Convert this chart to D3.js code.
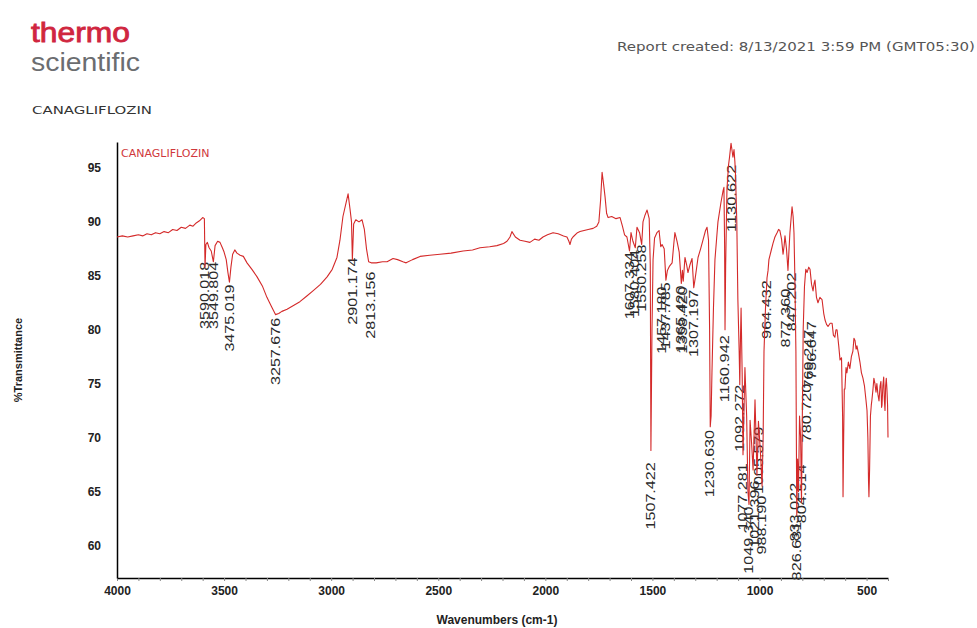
<!DOCTYPE html>
<html>
<head>
<meta charset="utf-8">
<script src="https://cdn.jsdelivr.net/npm/d3@7"></script>
<style>
body{margin:0;background:#fff;}
svg{display:block;}
</style>
</head>
<body>
<div id="chart"></div>
<script>
// spectrum: [wavenumber cm-1, %T]
var spectrum = [
 [4000,88.6],[3975,88.7],[3950,88.6],[3925,88.7],[3900,88.8],[3880,88.7],[3860,88.9],[3840,88.8],
 [3820,89.0],[3800,88.9],[3780,89.1],[3760,89.0],[3740,89.3],[3720,89.2],[3700,89.5],[3680,89.4],
 [3660,89.7],[3645,89.6],[3630,89.9],[3615,90.1],[3600,90.4],[3592,90.3],[3589,85.8],[3585,87.9],
 [3578,88.1],[3570,87.6],[3560,87.3],[3550,86.3],[3542,87.8],[3530,88.2],[3519,88.1],[3508,87.6],
 [3500,87.2],[3490,86.5],[3482,85.3],[3475,84.4],[3468,85.8],[3460,87.0],[3450,87.4],[3440,87.1],
 [3425,86.9],[3410,86.8],[3393,86.2],[3370,85.6],[3346,84.9],[3320,84.0],[3300,83.0],[3280,82.2],
 [3260,81.4],[3245,81.5],[3230,81.7],[3206,81.9],[3180,82.2],[3146,82.6],[3115,83.1],[3085,83.6],
 [3050,84.2],[3019,84.9],[2995,85.6],[2973,86.7],[2959,88.3],[2945,90.5],[2930,91.8],[2921,92.6],
 [2912,91.2],[2905,90.0],[2901,86.5],[2895,89.8],[2885,90.2],[2870,90.0],[2856,90.2],[2845,89.3],
 [2835,87.5],[2825,86.3],[2813,86.2],[2790,86.2],[2760,86.3],[2739,86.3],[2711,86.6],[2690,86.5],
 [2665,86.3],[2650,86.2],[2620,86.5],[2585,86.8],[2540,86.9],[2492,87.0],[2440,87.1],[2384,87.3],
 [2340,87.4],[2305,87.6],[2260,87.7],[2226,87.8],[2195,88.0],[2179,88.2],[2165,88.6],[2156,89.1],
 [2140,88.6],[2118,88.3],[2095,88.2],[2072,88.1],[2050,88.4],[2030,88.3],[2011,88.6],[1990,88.8],
 [1964,89.0],[1940,88.9],[1915,88.7],[1899,88.6],[1890,88.2],[1885,87.9],[1878,88.4],[1871,88.6],
 [1850,89.0],[1838,89.1],[1800,89.3],[1777,89.4],[1760,89.6],[1750,90.0],[1742,92.0],[1735,94.6],
 [1728,93.5],[1721,92.3],[1714,90.8],[1707,90.4],[1690,90.5],[1670,90.3],[1651,90.4],[1640,89.6],
 [1630,88.8],[1619,88.6],[1607,87.3],[1600,89.0],[1591,88.2],[1580,87.6],[1572,89.5],[1560,89.0],
 [1550,87.9],[1544,90.0],[1535,90.6],[1525,91.1],[1515,90.3],[1510,86.0],[1507,68.8],[1502,80.0],
 [1497,86.5],[1490,88.5],[1479,89.0],[1469,89.2],[1461,87.7],[1455,87.9],[1445,87.5],[1437,84.6],
 [1430,85.5],[1420,85.9],[1408,86.2],[1400,88.0],[1395,89.0],[1385,88.2],[1375,87.2],[1365,84.3],
 [1360,85.5],[1356,84.5],[1348,86.7],[1340,86.0],[1334,85.3],[1325,86.0],[1315,86.6],[1307,83.9],
 [1300,84.8],[1287,86.7],[1275,87.5],[1264,88.3],[1252,89.2],[1245,89.5],[1238,88.3],[1233,80.0],
 [1230,71.0],[1226,72.0],[1222,76.0],[1215,82.0],[1208,86.5],[1200,88.5],[1194,90.0],[1180,91.8],
 [1170,92.9],[1166,93.2],[1163,88.0],[1161,80.0],[1158,86.0],[1152,93.0],[1145,95.2],[1140,96.0],
 [1133,97.3],[1128,96.6],[1124,96.0],[1119,96.7],[1115,95.6],[1112,94.4],[1106,90.0],[1101,82.8],
 [1095,78.0],[1092,74.9],[1089,79.0],[1086,82.0],[1081,76.0],[1077,68.4],[1072,73.0],[1068,76.5],
 [1060,72.0],[1054,65.0],[1049,63.8],[1044,71.6],[1037,69.5],[1030,67.0],[1025,70.5],[1021,73.5],
 [1016,70.0],[1012,66.5],[1008,69.0],[1005,71.5],[1000,70.0],[994,68.0],[988,65.5],[983,70.0],
 [979,78.0],[972,82.0],[965,84.8],[960,85.5],[956,86.5],[946,87.3],[937,88.0],[928,88.6],
 [918,89.0],[911,89.3],[905,89.2],[897,88.4],[890,87.0],[885,87.8],[881,88.7],[874,87.5],
 [867,85.5],[862,87.5],[858,89.0],[853,90.2],[848,91.4],[843,90.5],[839,89.0],[835,85.0],
 [830,78.0],[826,62.8],[822,68.0],[818,65.0],[813,72.0],[808,70.0],[804,64.0],[800,72.0],
 [796,80.0],[790,84.0],[784,85.6],[778,85.3],[770,85.8],[764,85.6],[757,84.2],[750,83.6],
 [745,84.3],[741,84.6],[734,83.0],[727,82.5],[718,83.0],[708,82.8],[700,81.5],[694,80.9],
 [687,80.5],[680,80.3],[670,80.6],[661,80.6],[655,79.5],[648,79.3],[643,80.0],[638,80.0],
 [630,78.5],[624,77.2],[617,77.4],[612,72.0],[610,64.5],[607,70.0],[604,74.5],[601,74.5],
 [596,76.5],[592,76.0],[585,77.0],[578,76.4],[571,77.5],[564,78.0],[559,79.2],[554,79.0],
 [549,78.2],[545,78.5],[538,77.8],[531,77.0],[524,76.0],[517,75.5],[510,74.8],[503,73.5],
 [498,72.5],[494,70.0],[491,66.0],[489,64.5],[486,67.0],[482,72.0],[478,73.0],[475,73.5],
 [470,74.5],[466,75.5],[461,75.0],[456,74.2],[452,75.0],[447,74.0],[442,73.4],[437,74.8],
 [433,75.2],[430,72.8],[428,73.0],[424,74.8],[420,75.6],[417,73.5],[414,72.5],[411,74.8],
 [408,75.5],[405,74.5],[402,73.0],[400,70.0]
];

var xTicks = [4000, 3500, 3000, 2500, 2000, 1500, 1000, 500];
var xMinorTicks = d3.range(4000, 399, -100);
var yTicks = [60, 65, 70, 75, 80, 85, 90, 95];

// peak annotations: label, wavenumber, %T where the top of the label sits
var peakText = ["3590.018","3549.804","3475.019","3257.676","2901.174","2813.156",
                "1607.334","1580.404","1550.258","1507.422","1457.180","1437.785",
                "1365.420","1358.420","1307.197","1230.630","1160.942","1130.622",
                "1092.272","1077.281","1049.340","1021.396","1005.579","988.190",
                "964.432","877.360","847.202","833.022","826.631","804.514",
                "780.720","769.247","756.647"];
var peakWn   = [3590.0,3549.8,3475.0,3257.7,2901.2,2813.2,
                1607.3,1580.4,1550.3,1507.4,1457.2,1437.8,
                1365.4,1358.4,1307.2,1230.6,1160.9,1130.6,
                1092.3,1077.3,1049.3,1021.4,1005.6,988.2,
                964.4,877.4,847.2,833.0,826.6,804.5,
                780.7,769.2,756.6];
var peakTop  = [86.3,86.3,84.2,81.1,86.7,85.4,
                87.2,87.4,87.9,67.7,84.0,84.4,
                84.1,84.0,83.7,70.7,79.5,95.3,
                74.9,67.6,63.6,66.0,71.0,64.6,
                84.6,83.8,85.3,65.8,62.2,67.5,
                75.0,80.0,80.8];

var W = 977, H = 628;
var plot = {left:117, right:888, top:142, bottom:578};

var svg = d3.select("#chart")
    .append("svg")
    .attr("width", W)
    .attr("height", H)
    .style("background-color", "#fff");

var x = d3.scaleLinear().domain([4000, 400]).range([plot.left, plot.right]);
var y = d3.scaleLinear().domain([56.97, 97.41]).range([plot.bottom, plot.top]);

// header
svg.append("text")
    .attr("x", 31).attr("y", 42)
    .attr("textLength", 99).attr("lengthAdjust", "spacingAndGlyphs")
    .style("font-family", "Liberation Sans, Arial, sans-serif")
    .style("font-size", "27px")
    .style("fill", "#d0263f")
    .style("stroke", "#d0263f")
    .style("stroke-width", 0.8)
    .text("thermo");

svg.append("text")
    .attr("x", 31).attr("y", 71)
    .attr("textLength", 109).attr("lengthAdjust", "spacingAndGlyphs")
    .style("font-family", "Liberation Sans, Arial, sans-serif")
    .style("font-size", "26px")
    .style("fill", "#6b6d70")
    .text("scientific");

svg.append("text")
    .attr("x", 32).attr("y", 114)
    .attr("textLength", 120).attr("lengthAdjust", "spacingAndGlyphs")
    .style("font-family", "DejaVu Sans, sans-serif")
    .style("font-size", "11px")
    .style("fill", "#333")
    .text("CANAGLIFLOZIN");

svg.append("text")
    .attr("x", 617).attr("y", 51)
    .attr("textLength", 358).attr("lengthAdjust", "spacingAndGlyphs")
    .style("font-family", "DejaVu Sans, sans-serif")
    .style("font-size", "11.5px")
    .style("fill", "#555")
    .text("Report created: 8/13/2021 3:59 PM (GMT05:30)");

// axes
var tickFont = "Liberation Sans Narrow, Liberation Sans, Arial, sans-serif";

var xAxis = svg.append("g")
    .attr("transform", "translate(0," + plot.bottom + ")")
    .call(d3.axisBottom(x).tickValues(xTicks).tickSize(0).tickPadding(8).tickFormat(d3.format("d")));
xAxis.select(".domain").attr("stroke", "#000").attr("stroke-width", 1.5);
xAxis.selectAll("text")
    .style("font-family", tickFont)
    .style("font-size", "12px")
    .style("font-weight", "bold")
    .style("fill", "#222");

svg.append("g")
    .attr("transform", "translate(0," + plot.bottom + ")")
    .call(d3.axisBottom(x).tickValues(xMinorTicks).tickSize(3).tickSizeOuter(0).tickFormat(""))
    .call(function(g){ g.select(".domain").remove(); g.selectAll("line").attr("stroke", "#888"); });

var yAxis = svg.append("g")
    .attr("transform", "translate(" + plot.left + ",0)")
    .call(d3.axisLeft(y).tickValues(yTicks).tickSize(0).tickPadding(16));
yAxis.select(".domain").attr("stroke", "#000").attr("stroke-width", 1.5);
yAxis.selectAll("text")
    .style("font-family", tickFont)
    .style("font-size", "12px")
    .style("font-weight", "bold")
    .style("fill", "#222");

svg.append("text")
    .attr("x", 497).attr("y", 624)
    .attr("text-anchor", "middle")
    .style("font-family", tickFont)
    .style("font-size", "12px")
    .style("font-weight", "bold")
    .style("fill", "#222")
    .text("Wavenumbers (cm-1)");

svg.append("text")
    .attr("transform", "translate(22,360) rotate(-90)")
    .attr("text-anchor", "middle")
    .style("font-family", tickFont)
    .style("font-size", "11px")
    .style("font-weight", "bold")
    .style("fill", "#222")
    .text("%Transmittance");

// series name inside plot
svg.append("text")
    .attr("x", 121).attr("y", 157)
    .style("font-family", "DejaVu Sans, sans-serif")
    .style("font-size", "11px")
    .style("fill", "#d0383c")
    .text("CANAGLIFLOZIN");

// peak labels
var peaks = peakText.map(function(t, i){ return {t:t, wn:peakWn[i], top:peakTop[i]}; });
svg.append("g").selectAll("text")
    .data(peaks)
    .enter().append("text")
    .attr("transform", function(d){ return "translate(" + x(d.wn) + "," + y(d.top) + ") rotate(-90)"; })
    .attr("text-anchor", "end")
    .attr("dy", "0.35em")
    .attr("textLength", function(d){ return d.t.length * 8.4; })
    .attr("lengthAdjust", "spacingAndGlyphs")
    .style("font-family", "Liberation Sans, Arial, sans-serif")
    .style("font-size", "12px")
    .style("fill", "#2a2a2a")
    .text(function(d){ return d.t; });

// spectrum
var line = d3.line()
    .x(function(d){ return x(d[0]); })
    .y(function(d){ return y(d[1]); });

svg.append("path")
    .datum(spectrum)
    .attr("d", line)
    .attr("fill", "none")
    .attr("stroke", "#d42a2a")
    .attr("stroke-width", 1.1)
    .attr("stroke-linejoin", "round");
</script>
</body>
</html>
